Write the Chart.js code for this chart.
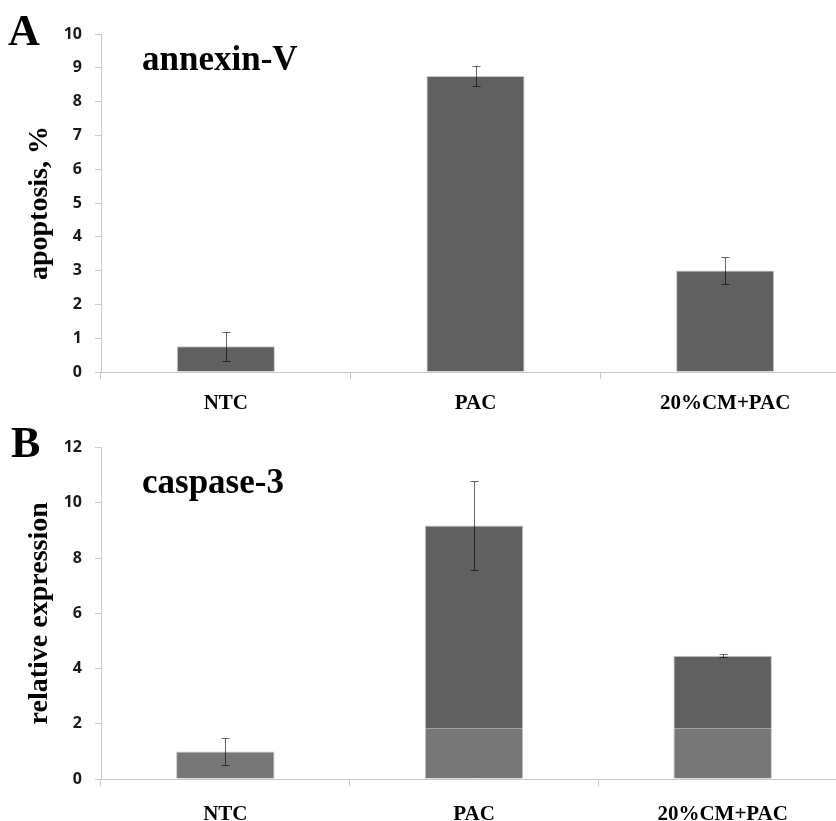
<!DOCTYPE html>
<html>
<head>
<meta charset="utf-8">
<script src="https://cdn.jsdelivr.net/npm/chart.js@4.4.0/dist/chart.umd.min.js"></script>
<style>
    html, body { margin: 0; padding: 0; background: #fff; overflow: hidden; width: 836px; height: 821px; }
    canvas { position: absolute; left: 0; }
    #chartA { top: 0; }
    #chartB { top: 425px; }
</style>
</head>
<body>
<canvas id="chartA" width="850" height="425"></canvas>
<canvas id="chartB" width="847" height="396"></canvas>
<script>
const categories = ["NTC", "PAC", "20%CM+PAC"];

// A: annexin-V apoptosis, %
const annexinValues = [0.76, 8.76, 3.0];
const annexinErrors = [0.43, 0.3, 0.41];

// B: caspase-3 relative expression (stacked: lighter base + darker top)
const caspaseBase = [1.0, 1.82, 1.82];
const caspaseTop = [0, 7.36, 2.64];
const caspaseErrors = [0.5, 1.6, 0.05];

const axisGrey = "#c8c8c8";
const darkBar = "#606060";
const lightBar = "#777777";
const serif = "'Liberation Serif', 'Times New Roman', serif";
const sans = "'Open Sans', 'Liberation Sans', sans-serif";

// error bars drawn at the top of each (stacked) bar
const errorBarsPlugin = {
    id: "errorBars",
    afterDatasetsDraw(chart, args, opts) {
        const ctx = chart.ctx;
        const x = chart.scales.x;
        const y = chart.scales.y;
        ctx.save();
        ctx.strokeStyle = "rgba(0,0,0,0.6)";
        ctx.lineWidth = 1;
        opts.errors.forEach((err, i) => {
            const total = chart.data.datasets.reduce((s, d) => s + d.data[i], 0);
            const cx = Math.round(x.getPixelForValue(i)) + 0.5;
            const hi = Math.round(y.getPixelForValue(total + err)) + 0.5;
            const lo = Math.round(y.getPixelForValue(total - err)) + 0.5;
            ctx.beginPath();
            ctx.moveTo(cx, hi); ctx.lineTo(cx, lo);
            ctx.moveTo(cx - 4, hi); ctx.lineTo(cx + 4, hi);
            ctx.moveTo(cx - 4, lo); ctx.lineTo(cx + 4, lo);
            ctx.stroke();
        });
        ctx.restore();
    }
};

// panel letter and in-plot title
const panelTextPlugin = {
    id: "panelText",
    afterDraw(chart, args, opts) {
        const ctx = chart.ctx;
        ctx.save();
        ctx.fillStyle = "#000";
        ctx.textBaseline = "alphabetic";
        ctx.textAlign = "left";
        ctx.font = "bold 44px " + serif;
        ctx.fillText(opts.letter, opts.letterX, opts.letterY);
        ctx.font = "bold 35px " + serif;
        ctx.fillText(opts.title, opts.titleX, opts.titleY);
        ctx.restore();
    }
};

function makeScales(yMax, step, yTitle, xHeight, xPad) {
    return {
        x: {
            grid: { offset: true, drawOnChartArea: false, tickLength: 7, color: axisGrey },
            border: { color: axisGrey },
            ticks: { color: "#000", padding: xPad, font: { family: serif, size: 21, weight: "bold" } },
            afterFit: scale => { scale.height = xHeight; }
        },
        y: {
            min: 0,
            max: yMax,
            grid: { drawOnChartArea: false, tickLength: 6, color: axisGrey },
            border: { color: axisGrey },
            ticks: { stepSize: step, color: "#1a1a1a", padding: 13, font: { family: sans, size: 16, weight: "bold" } },
            title: {
                display: true,
                text: yTitle,
                color: "#000",
                padding: { top: 23, bottom: 0 },
                font: { family: serif, size: 28, weight: "bold" }
            },
            afterFit: scale => { scale.width = 101; }
        }
    };
}

new Chart(document.getElementById("chartA"), {
    type: "bar",
    data: {
        labels: categories,
        datasets: [{
            data: annexinValues,
            backgroundColor: darkBar,
            borderColor: axisGrey,
            borderWidth: 1,
            categoryPercentage: 1,
            barPercentage: 0.393
        }]
    },
    options: {
        responsive: false,
        animation: false,
        layout: { padding: { top: 34, left: 0, right: 0, bottom: 0 } },
        plugins: {
            legend: { display: false },
            tooltip: { enabled: false },
            errorBars: { errors: annexinErrors },
            panelText: { letter: "A", letterX: 8, letterY: 45, title: "annexin-V", titleX: 142, titleY: 70 }
        },
        scales: makeScales(10, 1, "apoptosis, %", 53, 12)
    },
    plugins: [errorBarsPlugin, panelTextPlugin]
});

new Chart(document.getElementById("chartB"), {
    type: "bar",
    data: {
        labels: categories,
        datasets: [{
            data: caspaseBase,
            backgroundColor: lightBar,
            borderColor: axisGrey,
            borderWidth: c => ({ left: 1, right: 1, top: caspaseTop[c.dataIndex] ? 0 : 1, bottom: 0 }),
            categoryPercentage: 1,
            barPercentage: 0.396,
            stack: "s"
        }, {
            data: caspaseTop,
            backgroundColor: darkBar,
            borderColor: axisGrey,
            borderWidth: { left: 1, right: 1, top: 1, bottom: 0 },
            categoryPercentage: 1,
            barPercentage: 0.396,
            stack: "s"
        }]
    },
    options: {
        responsive: false,
        animation: false,
        layout: { padding: { top: 22, left: 0, right: 0, bottom: 0 } },
        plugins: {
            legend: { display: false },
            tooltip: { enabled: false },
            errorBars: { errors: caspaseErrors },
            panelText: { letter: "B", letterX: 11, letterY: 32, title: "caspase-3", titleX: 142, titleY: 68 }
        },
        scales: Object.assign(makeScales(12, 2, "relative expression", 42, 16), {}),
    },
    plugins: [errorBarsPlugin, panelTextPlugin]
});
</script>
</body>
</html>
